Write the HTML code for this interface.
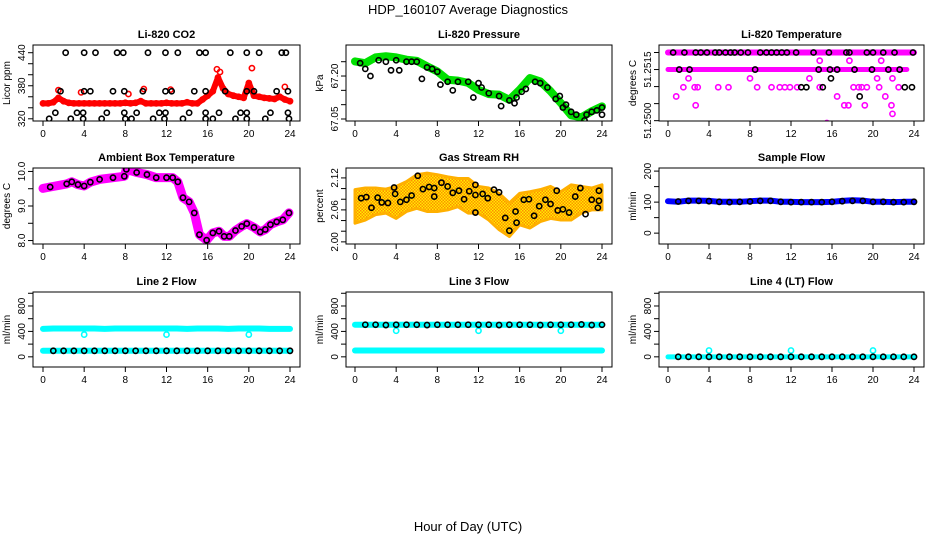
<!DOCTYPE html>
<html><head><meta charset="utf-8">
<style>
body{margin:0;background:#fff;}
svg{display:block;font-family:"Liberation Sans",sans-serif;}
</style></head>
<body>
<svg id="chart" width="936" height="540" viewBox="0 0 936 540" xmlns="http://www.w3.org/2000/svg">
<text x="468" y="14" font-size="13" text-anchor="middle">HDP_160107  Average Diagnostics</text>
<text x="468" y="531" font-size="13" text-anchor="middle">Hour of Day (UTC)</text>
</svg>
<script>
// ---------- data ----------
const xTicks = [0,4,8,12,16,20,24];
const halfHours = [0,0.5,1,1.5,2,2.5,3,3.5,4,4.5,5,5.5,6,6.5,7,7.5,8,8.5,9,9.5,10,10.5,11,11.5,12,12.5,13,13.5,14,14.5,15,15.5,16,16.5,17,17.5,18,18.5,19,19.5,20,20.5,21,21.5,22,22.5,23,23.5,24];
const hours = [0,1,2,3,4,5,6,7,8,9,10,11,12,13,14,15,16,17,18,19,20,21,22,23,24];

// CO2
const co2Red = [348,348,350,358,352,349,348,348,348,348,348,348,348,348,348,348,349,348,349,352,348,348,348,348,349,348,348,348,350,348,348,355,362,370,395,375,365,362,360,358,385,362,360,358,357,356,360,355,352];
const co2RedOutHours = [1.5,3.7,8.3,9.8,12.4,16.9,17.2,20.3,23.5];
const co2RedOutVals = [372,368,365,374,373,410,405,412,378];
const co2BlackHours = [2.2,4.0,5.1,7.2,7.8,10.2,11.9,13.1,15.2,15.8,18.2,19.8,21.0,23.2,23.6, 1.7,4.0,4.6,6.8,7.9,9.7,11.9,12.5,14.7,15.8,17.7,19.8,20.5,22.7,23.8, 1.2,3.3,3.9,6.2,7.9,9.1,11.3,11.9,14.2,15.8,17.1,19.2,19.8,22.1,23.8, 0.6,2.7,3.9,5.7,8.0,8.6,10.7,11.8,13.6,15.8,16.5,18.7,19.8,21.6,23.9];
const co2BlackVals = [440,440,440,440,440,440,440,440,440,440,440,440,440,440,440, 370,370,370,370,370,370,370,370,370,370,370,370,370,370,370, 331,331,331,331,331,331,331,331,331,331,331,331,331,331,331, 320,320,320,320,320,320,320,320,320,320,320,320,320,320,320];

// Pressure
const presGreen = [67.251,67.245,67.265,67.269,67.265,67.257,67.253,67.234,67.216,67.187,67.184,67.176,67.152,67.137,67.135,67.117,67.152,67.193,67.181,67.147,67.106,67.063,67.056,67.077,67.094];
const presBlackHours = [0.5,1,1.5,2.3,3,3.5,4,4.3,5,5.5,6,6.5,7,7.5,8,8.3,9,9.5,10,11,11.5,12,12.3,13,14,14.2,15,15.5,15.7,16.2,16.6,17.5,18,18.7,19.5,19.9,20.2,20.5,21,21.5,22.3,22.5,23,23.5,24,24];
const presBlackVals = [67.245,67.225,67.20,67.255,67.25,67.22,67.255,67.22,67.25,67.25,67.25,67.19,67.23,67.225,67.215,67.17,67.18,67.15,67.18,67.18,67.125,67.175,67.16,67.14,67.13,67.095,67.115,67.105,67.125,67.145,67.155,67.18,67.175,67.16,67.12,67.13,67.09,67.10,67.075,67.065,67.045,67.065,67.075,67.08,67.09,67.065];

// Li-820 temperature
const tempTopBand = [51.2520,51.2520];
const tempTopBandHours = [0,24];
const tempMidBand = [51.2515,51.2515];
const tempMidBandHours = [0,23.3];
const tempMagHours = [0.8,1.5,2.0,2.6,2.7,2.9,4.9,5.9,8.0,8.7,10.1,10.9,11.4,11.9,12.6,13.8,14.8,14.8,15.5,16.5,17.2,17.6,17.7,18.1,18.6,18.9,19.2,19.4,20.4,20.8,20.6,21.2,21.8,21.9,21.9,22.5];
const tempMagVals = [51.25071,51.25098,51.25124,51.25098,51.25045,51.25098,51.25098,51.25098,51.25124,51.25098,51.25098,51.25098,51.25098,51.25098,51.25098,51.25124,51.25176,51.25098,51.24993,51.25071,51.25045,51.25045,51.25176,51.25098,51.25098,51.25098,51.25045,51.25098,51.25124,51.25176,51.25098,51.25071,51.25045,51.25020,51.25124,51.25098];
const tempBlackHours = [0.5,1.6,2.7,3.2,3.8,4.6,5.0,5.6,6.1,6.5,7.1,7.8,9.0,9.6,10.1,10.6,11.1,11.6,12.5,14.2,15.7,17.4,17.7,19.4,20.0,21.0,22.1,23.9, 1.1,2.1,8.5,14.7,15.8,16.5,18.2,19.9,21.5,22.6, 13.0,13.5,15.1,23.1,23.8,15.9,18.7];
const tempBlackVals = [51.2520,51.2520,51.2520,51.2520,51.2520,51.2520,51.2520,51.2520,51.2520,51.2520,51.2520,51.2520,51.2520,51.2520,51.2520,51.2520,51.2520,51.2520,51.2520,51.2520,51.2520,51.2520,51.2520,51.2520,51.2520,51.2520,51.2520,51.2520, 51.2515,51.2515,51.2515,51.2515,51.2515,51.2515,51.2515,51.2515,51.2515,51.2515, 51.25098,51.25098,51.25098,51.25098,51.25098,51.25124,51.25071];

// Ambient box temperature
const ambHours = [0,0.7,2.3,2.8,3.4,4,4.6,5.5,6.8,7.9,8.1,9.1,10.1,11,12,12.6,13.1,13.6,14.2,14.7,15.2,15.9,16.5,17.1,17.6,18.1,18.7,19.3,19.8,20.5,21.1,21.6,22.1,22.7,23.3,23.9];
const ambVals = [9.51,9.55,9.64,9.70,9.62,9.58,9.69,9.77,9.82,9.86,10.06,9.97,9.91,9.82,9.82,9.82,9.70,9.24,9.12,8.80,8.17,8.01,8.22,8.27,8.12,8.12,8.29,8.41,8.49,8.38,8.25,8.32,8.46,8.54,8.60,8.80];

// Gas stream RH
const rhUpper = [2.098,2.101,2.101,2.099,2.104,2.113,2.126,2.129,2.126,2.122,2.119,2.119,2.104,2.101,2.091,2.073,2.091,2.094,2.098,2.104,2.094,2.107,2.104,2.101,2.107];
const rhLower = [2.035,2.041,2.051,2.054,2.044,2.057,2.063,2.057,2.057,2.060,2.066,2.054,2.054,2.041,2.023,2.010,2.032,2.026,2.038,2.044,2.041,2.041,2.054,2.060,2.060];
const rhBlackHours = [0.6,1.1,1.6,2.2,2.6,3.2,3.8,3.9,4.4,5.0,5.5,6.1,6.6,7.2,7.7,7.7,8.4,9.0,9.5,10.1,10.6,11.1,11.7,11.7,11.7,12.4,12.9,13.5,14.0,14.6,15.0,15.6,15.7,16.4,16.9,17.4,17.9,18.5,19.0,19.6,19.7,20.2,20.8,21.4,21.9,22.4,23.0,23.6,23.7,23.7];
const rhBlackVals = [2.082,2.084,2.064,2.083,2.074,2.073,2.102,2.090,2.075,2.079,2.087,2.124,2.099,2.103,2.101,2.085,2.111,2.104,2.092,2.096,2.080,2.095,2.107,2.088,2.055,2.090,2.082,2.098,2.093,2.045,2.021,2.057,2.036,2.079,2.080,2.049,2.067,2.079,2.071,2.096,2.059,2.061,2.055,2.085,2.101,2.052,2.079,2.064,2.096,2.077];

// Sample flow
const sampleBlue = [103,101,105,105,104,101,101,101,103,105,105,101,101,100,100,100,101,104,106,105,101,101,100,101,101];
const sampleBlack = [101,102,104,104,103,101,100,101,102,104,104,101,100,100,100,100,101,103,104,104,101,101,100,100,101];

// Line flows
const line2High = [440,445,445,445,445,445,440,445,445,445,445,445,445,445,440,445,445,445,440,445,445,445,440,440,440];
const line2Low = [95,95,95,95,95,95,95,95,95,95,95,95,95,95,95,95,95,95,95,95,95,95,95,95,95];
const line2Black = [95,95,95,95,95,95,95,95,95,95,95,95,95,95,95,95,95,95,95,95,95,95,95,95,95];
const outlierHours = [4,12,20];
const line2Out = [350,350,350];
const line3High = [505,505,505,505,505,505,505,505,505,505,505,505,505,505,505,505,505,505,505,505,505,505,505,505,505];
const line3Low = [100,100,100,100,100,100,100,100,100,100,100,100,100,100,100,100,100,100,100,100,100,100,100,100,100];
const line3Black = [505,505,505,500,505,505,505,500,505,505,505,505,505,505,500,505,505,505,500,505,505,505,510,500,505];
const line3Out = [410,410,410];
const line4Cyan = [0,0,0,0,0,0,0,0,0,0,0,0,0,0,0,0,0,0,0,0,0,0,0,0,0];
const line4Black = [0,0,0,0,0,0,0,0,0,0,0,0,0,0,0,0,0,0,0,0,0,0,0,0,0];
const line4Out = [100,100,100];

// ---------- drawing ----------
const NS = "http://www.w3.org/2000/svg";
const svg = document.getElementById('chart');
function mk(tag, attrs, parent){
  const e = document.createElementNS(NS, tag);
  for (const k in attrs) e.setAttribute(k, attrs[k]);
  (parent||svg).appendChild(e);
  return e;
}
const defs = mk('defs',{});
const pat = mk('pattern',{id:'rhpat',width:3,height:3,patternUnits:'userSpaceOnUse'},defs);
mk('rect',{x:0,y:0,width:3,height:3,fill:'#ffee00'},pat);
mk('rect',{x:0,y:0,width:1.5,height:1.5,fill:'#ff8c00'},pat);
mk('rect',{x:1.5,y:1.5,width:1.5,height:1.5,fill:'#ff8c00'},pat);

const colX = [{l:33,r:300,x0:43,x24:290},{l:346,r:612,x0:355,x24:602},{l:659,r:924,x0:668,x24:914}];
const rowY = [{t:45,b:121},{t:168,b:244},{t:292,b:367}];

function makePanel(name, col, row, title, ylab, ymin, ymax, yTicks, yLabels){
  const c = colX[col], r = rowY[row];
  const g = mk('g',{});
  
  
  const sx = h => c.x0 + (h/24)*(c.x24-c.x0);
  const sy = v => r.b - (v-ymin)/(ymax-ymin)*(r.b-r.t);
  const clip = mk('clipPath',{id:'clip-'+name},defs);
  mk('rect',{x:c.l,y:r.t,width:c.r-c.l,height:r.b-r.t},clip);
  const plot = mk('g',{'clip-path':'url(#clip-'+name+')'},g);
  
  
  const box = mk('rect',{x:c.l,y:r.t,width:c.r-c.l,height:r.b-r.t,fill:'none',stroke:'#000','stroke-width':1},g);
  
  
  const t = mk('text',{x:(c.l+c.r)/2,y:r.t-7,'font-size':11,'font-weight':'bold','text-anchor':'middle'},g);
  t.textContent = title;
  
  
  const xa = mk('g',{},g);
  
  
  xTicks.forEach(h=>{
    mk('line',{x1:sx(h),x2:sx(h),y1:r.b,y2:r.b+5,stroke:'#000'},xa);
    const lt = mk('text',{x:sx(h),y:r.b+16,'font-size':10,'text-anchor':'middle'},xa);
    lt.textContent = h;
  });
  const ya = mk('g',{},g);
  
  
  yTicks.forEach((v,i)=>{
    const y = sy(v);
    mk('line',{x1:c.l-5,x2:c.l,y1:y,y2:y,stroke:'#000'},ya);
    if (yLabels[i]) {
      const lt = mk('text',{x:c.l-8,y:y,'font-size':10,'text-anchor':'middle',transform:'rotate(-90 '+(c.l-8)+' '+y+')'},ya);
      lt.textContent = yLabels[i];
    }
  });
  const yt = mk('text',{x:c.l-23,y:(r.t+r.b)/2,'font-size':10,'text-anchor':'middle',transform:'rotate(-90 '+(c.l-23)+' '+((r.t+r.b)/2)+')'},g);
  yt.textContent = ylab;
  
  
  return {plot, sx, sy};
}

function band(p, hs, vs, color, w, nm){
  const pts = hs.map((h,i)=>p.sx(h)+','+p.sy(vs[i])).join(' ');
  const pl = mk('polyline',{points:pts,fill:'none',stroke:color,'stroke-width':w,'stroke-linejoin':'round','stroke-linecap':'round'},p.plot);
  
  
}
function pts(p, hs, vs, color, nm, rr, fill){
  const g = mk('g',{},p.plot);
  
  
  hs.forEach((h,i)=>{
    const c = mk('circle',{cx:p.sx(h),cy:p.sy(vs[i]),r:rr||2.6,fill:fill||'none',stroke:color,'stroke-width':1.6},g);
    
    
  });
}

// Panel 1 CO2
let p = makePanel('co2',0,0,'Li-820 CO2','Licor ppm',316,454,[320,340,360,380,400,420,440],['320','','','380','','','440']);
band(p, halfHours, co2Red, '#ff0000', 6, 'co2-red-band');
pts(p, halfHours, co2Red, '#ff0000', 'co2-red-series');
pts(p, co2RedOutHours, co2RedOutVals, '#ff0000', 'co2-red-outliers');
pts(p, co2BlackHours, co2BlackVals, '#000', 'co2-black-series');

// Panel 2 Pressure
p = makePanel('pressure',1,0,'Li-820 Pressure','kPa',67.043,67.3083,[67.05,67.10,67.15,67.20,67.25],['67.05','','','67.20','']);
band(p, hours, presGreen, '#00e000', 8, 'pressure-green-band');
pts(p, presBlackHours, presBlackVals, '#000', 'pressure-black-series');

// Panel 3 Temperature
p = makePanel('li820-temp',2,0,'Li-820 Temperature','degrees C',51.24999,51.25222,[51.2500,51.2505,51.2510,51.2515,51.2520],['51.2500','','','51.2515','']);
band(p, tempTopBandHours, tempTopBand, '#ff00ff', 6, 'temp-top-band');
band(p, tempMidBandHours, tempMidBand, '#ff00ff', 5, 'temp-mid-band');
pts(p, tempMagHours, tempMagVals, '#ff00ff', 'temp-magenta-series');
pts(p, tempBlackHours, tempBlackVals, '#000', 'temp-black-series');

// Panel 4 Ambient
p = makePanel('ambient',0,1,'Ambient Box Temperature','degrees C',7.9,10.1,[8.0,8.5,9.0,9.5,10.0],['8.0','','9.0','','10.0']);
band(p, ambHours, ambVals, '#ff00ff', 9, 'ambient-magenta-band');
pts(p, ambHours.slice(1), ambVals.slice(1), '#000', 'ambient-black-series');

// Panel 5 RH
p = makePanel('rh',1,1,'Gas Stream RH','percent',1.996,2.1386,[2.00,2.02,2.04,2.06,2.08,2.10,2.12],['2.00','','','2.06','','','2.12']);
{
  const up = hours.map((h,i)=>p.sx(h)+','+p.sy(rhUpper[i]));
  const lo = hours.map((h,i)=>p.sx(h)+','+p.sy(rhLower[i])).reverse();
  const poly = mk('polygon',{points:up.concat(lo).join(' '),fill:'url(#rhpat)',stroke:'#ffb000','stroke-width':3,'stroke-linejoin':'round'},p.plot);
  
  
}
pts(p, rhBlackHours, rhBlackVals, '#000', 'rh-black-series');

// Panel 6 Sample flow
p = makePanel('sample-flow',2,1,'Sample Flow','ml/min',-35,210,[0,50,100,150,200],['0','','100','','200']);
band(p, hours, sampleBlue, '#0000ff', 6, 'sample-blue-band');
pts(p, hours.slice(1), sampleBlack.slice(1), '#000', 'sample-black-series');

// Panel 7 Line 2
p = makePanel('line2',0,2,'Line 2 Flow','ml/min',-160,1020,[0,200,400,600,800,1000],['0','','400','','800','']);
band(p, hours, line2High, '#00ffff', 6, 'line2-cyan-high-band');
band(p, hours, line2Low, '#00ffff', 6, 'line2-cyan-low-band');
pts(p, outlierHours, line2Out, '#00ffff', 'line2-cyan-outliers');
pts(p, hours.slice(1), line2Black.slice(1), '#000', 'line2-black-series');

// Panel 8 Line 3
p = makePanel('line3',1,2,'Line 3 Flow','ml/min',-160,1020,[0,200,400,600,800,1000],['0','','400','','800','']);
band(p, hours, line3High, '#00ffff', 6, 'line3-cyan-high-band');
band(p, hours, line3Low, '#00ffff', 6, 'line3-cyan-low-band');
pts(p, outlierHours, line3Out, '#00ffff', 'line3-cyan-outliers');
pts(p, hours.slice(1), line3Black.slice(1), '#000', 'line3-black-series');

// Panel 9 Line 4
p = makePanel('line4',2,2,'Line 4 (LT) Flow','ml/min',-160,1020,[0,200,400,600,800,1000],['0','','400','','800','']);
band(p, hours, line4Cyan, '#00ffff', 5, 'line4-cyan-band');
pts(p, outlierHours, line4Out, '#00ffff', 'line4-cyan-outliers');
pts(p, hours.slice(1), line4Black.slice(1), '#000', 'line4-black-series');
</script>
</body></html>
